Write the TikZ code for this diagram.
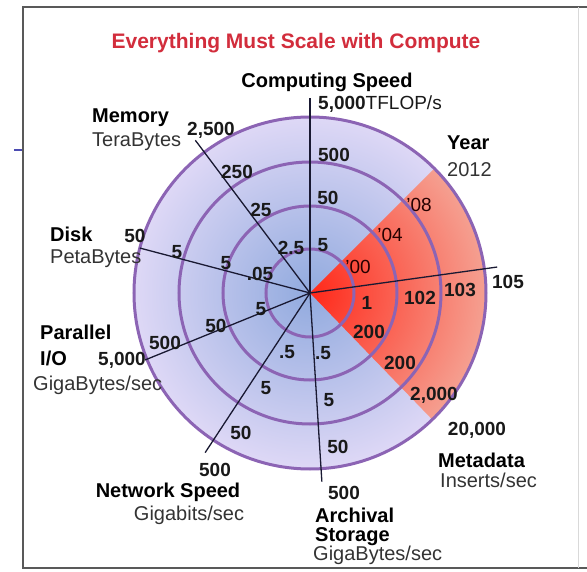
\documentclass[tikz,border=0pt]{standalone}
\usepackage{fontspec}
\setmainfont{Liberation Sans}
\usetikzlibrary{arrows.meta}

\definecolor{ringpurple}{RGB}{140,100,180}
\definecolor{titlered}{RGB}{210,45,60}
\definecolor{discin}{RGB}{145,170,222}
\definecolor{discout}{RGB}{222,216,246}
\definecolor{redin}{RGB}{255,40,25}
\definecolor{redout}{RGB}{245,160,145}
\definecolor{axisline}{RGB}{25,25,50}

\begin{document}
\begin{tikzpicture}[x=1pt, y=1pt,
  num/.style={font=\fontsize{19}{21}\selectfont\bfseries, inner sep=0pt, text=black!90},
  yr/.style={font=\fontsize{19}{21}\selectfont, inner sep=0pt, text=black!85!red},
  axname/.style={font=\fontsize{20}{22}\selectfont\bfseries, inner sep=0pt, anchor=west},
  unit/.style={font=\fontsize{20}{22}\selectfont, inner sep=0pt, anchor=west, text=black!80},
  ring/.style={draw=ringpurple, line width=3pt},
  axis/.style={draw=axisline, line width=1.3pt}]

\useasboundingbox (-310,-278) rectangle (277,293);

%% frame
\draw[black!65, line width=2pt] (277,286) -- (-287,286) -- (-287,-275) -- (277,-275);
\draw[black!15, line width=1pt] (268,286) -- (268,-275);
\draw[blue!40!gray, line width=2.5pt] (-296,143) -- (-288,143);

\node[font=\fontsize{21}{24}\selectfont\bfseries, text=titlered] (title) at (-14,250) {Everything Must Scale with Compute};

%% disc and red sector
\shade[inner color=discin, outer color=discout] (0,0) circle(176);
\begin{scope}
  \clip (0,0) -- (-46:180) arc (-46:45:180) -- cycle;
  \shade[inner color=redin, outer color=redout] (0,0) circle(176);
\end{scope}
\foreach \r in {44,87,131,176}
  \draw[ring] (0,0) circle(\r);

%% axes (polar coordinates)
\coordinate (O) at (0,0);
\coordinate (csEnd) at (90:195);
\coordinate (memEnd) at (126.9:191);
\coordinate (diskEnd) at (165.2:176);
\coordinate (pioEnd) at (202.1:178);
\coordinate (netEnd) at (236.7:191);
\coordinate (arcEnd) at (273.6:189);
\coordinate (yrEnd) at (7.9:189);
\foreach \e in {csEnd,memEnd,diskEnd,pioEnd,netEnd,arcEnd,yrEnd}
  \draw[axis] (O) -- (\e);

%% Computing Speed
\node[axname, anchor=center] (csName) at (17,211) {Computing Speed};
\node[num, anchor=west] (cs4) at (8,189) {5,000\mdseries TFLOP/s};
\node[num] (cs3) at (24,138) {500};
\node[num] (cs2) at (18,95) {50};
\node[num] (cs1) at (13,48) {5};

%% Memory
\node[axname] (memName) at (-218,175) {Memory};
\node[unit] (memUnit) at (-218,151) {TeraBytes};
\node[num] (mem4) at (-99,163) {2,500};
\node[num] (mem3) at (-73,121) {250};
\node[num] (mem2) at (-49,83) {25};
\node[num] (mem1) at (-19,45) {2.5};

%% Disk
\node[axname] (diskName) at (-260,59) {Disk};
\node[unit] (diskUnit) at (-260,34) {PetaBytes};
\node[num] (disk4) at (-175,57) {50};
\node[num] (disk3) at (-133,41) {5};
\node[num] (disk2) at (-84,30) {5};
\node[num] (disk1) at (-50,19) {.05};

%% Parallel I/O
\node[axname] (pioName) at (-270,-39) {Parallel};
\node[axname] (pioName2) at (-270,-65) {I/O};
\node[unit] (pioUnit) at (-277,-92) {GigaBytes/sec};
\node[num] (pio4) at (-188,-67) {5,000};
\node[num] (pio3) at (-145,-50) {500};
\node[num] (pio2) at (-94,-33) {50};
\node[num] (pio1) at (-49,-16) {5};

%% Network Speed
\node[num] (net1) at (-23,-59) {.5};
\node[num] (net2) at (-44,-95) {5};
\node[num] (net3) at (-69,-140) {50};
\node[num] (net4) at (-95,-177) {500};
\node[axname, anchor=center] (netName) at (-142,-199) {Network Speed};
\node[unit, anchor=center] (netUnit) at (-121,-222) {Gigabits/sec};

%% Archival Storage
\node[num] (arc1) at (13,-60) {.5};
\node[num] (arc2) at (19,-107) {5};
\node[num] (arc3) at (28,-154) {50};
\node[num] (arc4) at (34,-200) {500};
\node[axname] (arcName) at (5,-222) {Archival};
\node[axname] (arcName2) at (5,-244) {Storage};
\node[unit] (arcUnit) at (3,-262) {GigaBytes/sec};

%% Metadata
\node[num] (meta1) at (59,-39) {200};
\node[num] (meta2) at (90,-70) {200};
\node[num] (meta3) at (124,-102) {2,000};
\node[num] (meta4) at (167,-137) {20,000};
\node[axname] (metaName) at (128,-167) {Metadata};
\node[unit] (metaUnit) at (130,-187) {Inserts/sec};

%% Year
\node[yr] (yr1) at (48,26) {'00};
\node[yr] (yr2) at (80,58) {'04};
\node[yr] (yr3) at (109,88) {'08};
\node[axname] (yrName) at (137,150) {Year};
\node[unit] (yrUnit) at (137,123) {2012};
\node[num] (pow1) at (57,-10) {1};
\node[num] (pow2) at (110,-5) {102};
\node[num] (pow3) at (150,3) {103};
\node[num] (pow4) at (198,11) {105};
\end{tikzpicture}
\end{document}
